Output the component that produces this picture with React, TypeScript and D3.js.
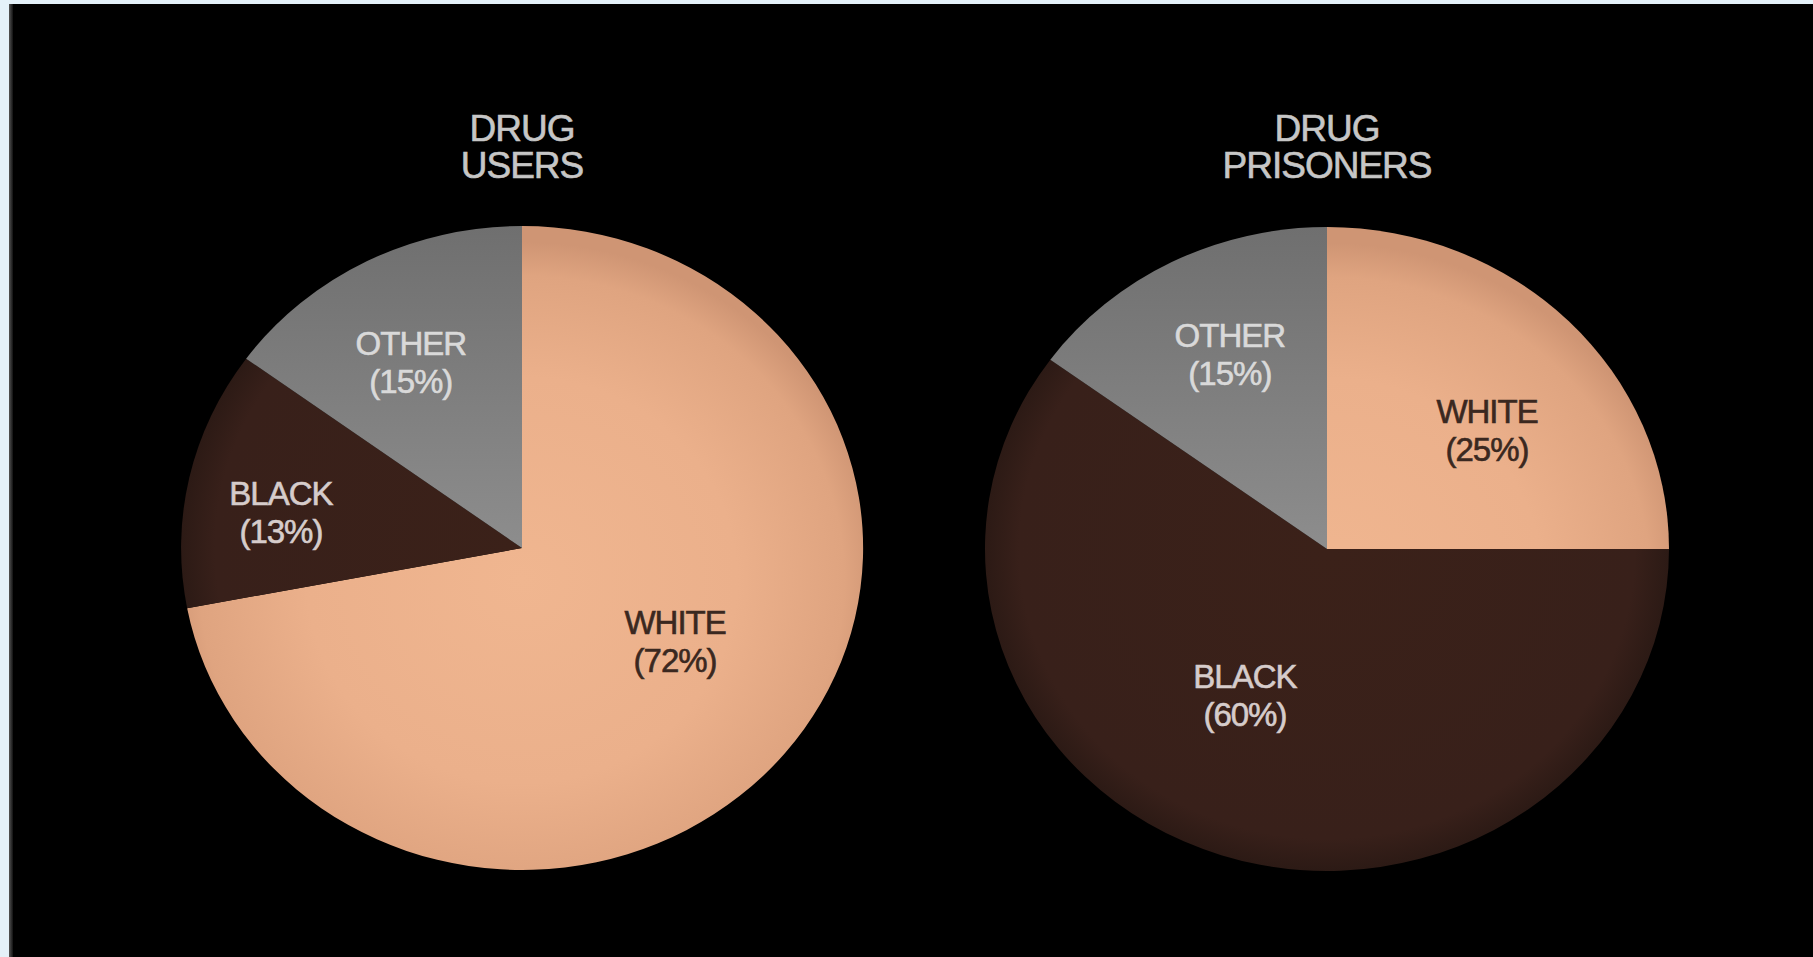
import React from "react";
import * as d3 from "d3";

// ---- data ----
const categories = ["WHITE", "BLACK", "OTHER"];
const usersShares = [72, 13, 15];
const prisonersShares = [25, 60, 15];
const titleUsers = ["DRUG", "USERS"];
const titlePrisoners = ["DRUG", "PRISONERS"];

// ---- layout / style ----
const W = 1813;
const H = 957;
const FONT = "'Liberation Sans', Arial, Helvetica, sans-serif";

const pieLayout = [
  { cx: 522, cy: 548, rx: 341, ry: 322, title: titleUsers, values: usersShares,
    // label anchors in normalised pie coordinates (first baseline)
    labels: { WHITE: [0.449, 0.267], BLACK: [-0.707, -0.134], OTHER: [-0.326, -0.599] } },
  { cx: 1327, cy: 549, rx: 342, ry: 322, title: titlePrisoners, values: prisonersShares,
    labels: { WHITE: [0.468, -0.391], BLACK: [-0.24, 0.432], OTHER: [-0.284, -0.627] } },
];

const fills: Record<string, string> = {
  WHITE: "url(#gWhite)",
  BLACK: "url(#gBlack)",
  OTHER: "url(#gOther)",
};
const labelColor: Record<string, string> = {
  WHITE: "#3a2820",
  BLACK: "#d6cccb",
  OTHER: "#d9d9d9",
};

export default function App() {
  const pie = d3.pie<number>().sort(null).value((d) => d);
  const arc = d3.arc<d3.PieArcDatum<number>>().innerRadius(0).outerRadius(1);

  return (
    <svg
      width={W}
      height={H}
      style={{ position: "fixed", left: 0, top: 0, display: "block" }}
    >
      <defs>
        <radialGradient id="gWhite" gradientUnits="userSpaceOnUse" cx={0} cy={0.1} r={1.05}>
          <stop offset="0" stopColor="#f0b690" />
          <stop offset="0.6" stopColor="#ebb08b" />
          <stop offset="0.9" stopColor="#dfa480" />
          <stop offset="1" stopColor="#cf9574" />
        </radialGradient>
        <linearGradient id="gOther" gradientUnits="userSpaceOnUse" x1={0} y1={-1} x2={0} y2={0}>
          <stop offset="0" stopColor="#6f6f6f" />
          <stop offset="1" stopColor="#8d8d8d" />
        </linearGradient>
        <radialGradient id="gBlack" gradientUnits="userSpaceOnUse" cx={0} cy={0} r={1}>
          <stop offset="0" stopColor="#3b2119" />
          <stop offset="0.9" stopColor="#38201a" />
          <stop offset="1" stopColor="#2c1a15" />
        </radialGradient>
        <linearGradient id="gEdge" x1="0" y1="0" x2="1" y2="0">
          <stop offset="0" stopColor="#555" />
          <stop offset="1" stopColor="#111" />
        </linearGradient>
      </defs>
      <rect x={0} y={0} width={W} height={H} fill="#e4f1f9" />
      <rect x={9} y={4} width={W - 9} height={H - 4} fill="#000" />
      <rect x={9} y={4} width={4} height={H - 4} fill="url(#gEdge)" />

      {pieLayout.map((p, pi) => {
        const arcs = pie(p.values);
        return (
          <g key={pi}>
            <g transform={`translate(${p.cx},${p.cy}) scale(${p.rx},${p.ry})`}>
              {arcs.map((a, i) => (
                <path key={i} d={arc(a) || ""} fill={fills[categories[i]]} />
              ))}
            </g>
            {p.title.map((t, ti) => (
              <text
                key={ti}
                x={p.cx}
                y={141 + ti * 37}
                textAnchor="middle"
                fontFamily={FONT}
                fontSize={37}
                letterSpacing={-1}
                fill="#c6c6c6"
                stroke="#c6c6c6"
                strokeWidth={0.6}
              >
                {t}
              </text>
            ))}
            {arcs.map((a, i) => {
              const cat = categories[i];
              const [nx, ny] = (p.labels as any)[cat];
              const x = p.cx + nx * p.rx;
              const y = p.cy + ny * p.ry;
              return (
                <text
                  key={cat}
                  textAnchor="middle"
                  fontFamily={FONT}
                  fontSize={33}
                  letterSpacing={-1}
                  fill={labelColor[cat]}
                  stroke={labelColor[cat]}
                  strokeWidth={0.6}
                >
                  <tspan x={x} y={y}>{cat}</tspan>
                  <tspan x={x} y={y + 38}>{`(${a.data}%)`}</tspan>
                </text>
              );
            })}
          </g>
        );
      })}
    </svg>
  );
}
